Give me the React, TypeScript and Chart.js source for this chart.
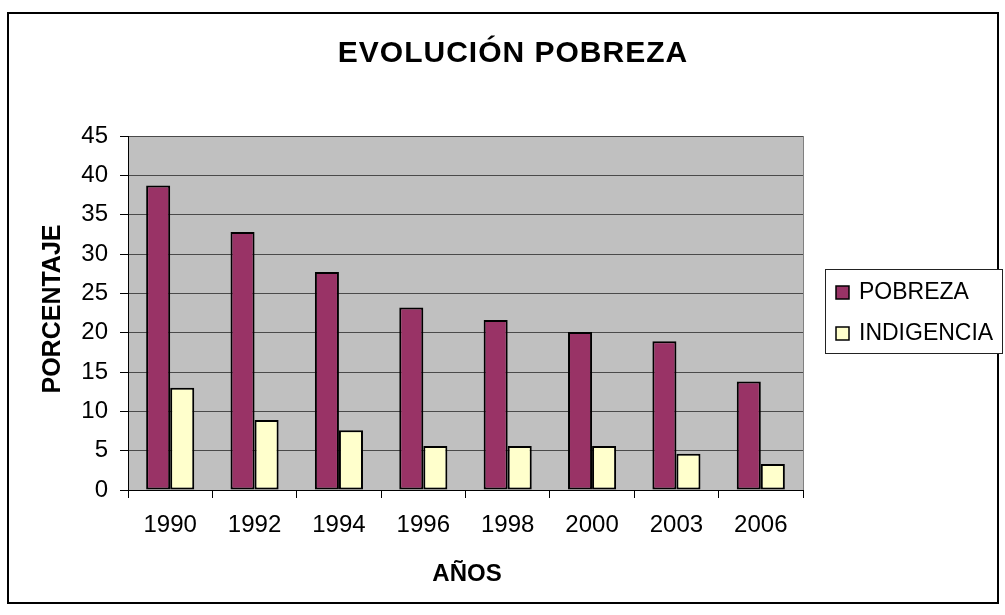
import { useEffect, useRef } from 'react';
import { Chart, registerables } from 'chart.js';

Chart.register(...registerables);

const categories = ['1990', '1992', '1994', '1996', '1998', '2000', '2003', '2006'];
const pobreza = [38.7, 32.8, 27.7, 23.2, 21.6, 20.1, 18.9, 13.8];
const indigencia = [13.0, 8.9, 7.6, 5.6, 5.6, 5.6, 4.6, 3.3];
const seriesNames = ['POBREZA', 'INDIGENCIA'];
const seriesColors = ['#993366', '#FFFFCC'];
const yMin = 0;
const yMax = 45;
const yStep = 5;
const titleText = 'EVOLUCIÓN POBREZA';
const xTitle = 'AÑOS';
const yTitle = 'PORCENTAJE';

const FONT = '"Liberation Sans", Arial, Helvetica, sans-serif';

const chromePlugin = {
  id: 'chrome',
  beforeDraw(chart: any) {
    const { ctx, chartArea: a, width, height } = chart;
    ctx.save();
    ctx.fillStyle = '#ffffff';
    ctx.fillRect(0, 0, width, height);
    ctx.fillStyle = '#C0C0C0';
    ctx.fillRect(a.left, a.top, a.right - a.left, a.bottom - a.top);
    ctx.restore();
  },
  afterDraw(chart: any) {
    const { ctx, chartArea: a } = chart;
    ctx.save();
    // right border of plot area
    ctx.strokeStyle = '#808080';
    ctx.lineWidth = 1;
    ctx.beginPath();
    ctx.moveTo(a.right + 0.5, a.top);
    ctx.lineTo(a.right + 0.5, a.bottom);
    ctx.stroke();

    // outer frame
    ctx.strokeStyle = '#000';
    ctx.lineWidth = 2;
    ctx.strokeRect(8, 13, 990, 590);

    // title
    ctx.fillStyle = '#000';
    ctx.textAlign = 'center';
    ctx.textBaseline = 'middle';
    ctx.font = `bold 30px ${FONT}`;
    (ctx as any).letterSpacing = '1px';
    ctx.fillText(titleText, 513, 54);
    (ctx as any).letterSpacing = '0px';

    // x axis title
    ctx.font = `bold 24px ${FONT}`;
    ctx.fillText(xTitle, 467, 574);

    // y axis title
    ctx.save();
    ctx.translate(52, 309);
    ctx.rotate(-Math.PI / 2);
    ctx.font = `bold 25px ${FONT}`;
    ctx.fillText(yTitle, 0, 1);
    ctx.restore();

    // legend
    const lx = 825.5, ly = 269.5, lw = 177, lh = 84;
    ctx.fillStyle = '#fff';
    ctx.fillRect(lx, ly, lw, lh);
    ctx.strokeStyle = '#222';
    ctx.lineWidth = 1;
    ctx.strokeRect(lx, ly, lw, lh);
    const rows = [292, 333];
    ctx.font = `23px ${FONT}`;
    ctx.textAlign = 'left';
    seriesNames.forEach((name, i) => {
      const cy = rows[i];
      ctx.fillStyle = seriesColors[i];
      ctx.fillRect(836, cy - 6, 13, 13);
      ctx.strokeStyle = '#000';
      ctx.lineWidth = 1.5;
      ctx.strokeRect(836, cy - 6, 13, 13);
      ctx.fillStyle = '#000';
      ctx.fillText(name, 859, cy + 1);
    });
    ctx.restore();
  },
};

export default function App() {
  const ref = useRef<HTMLCanvasElement | null>(null);

  useEffect(() => {
    if (!ref.current) return;
    const chart = new Chart(ref.current, {
      type: 'bar',
      data: {
        labels: categories,
        datasets: [
          {
            label: seriesNames[0],
            data: pobreza,
            backgroundColor: seriesColors[0],
            borderColor: '#000',
            borderWidth: 2,
            borderSkipped: false,
          },
          {
            label: seriesNames[1],
            data: indigencia,
            backgroundColor: seriesColors[1],
            borderColor: '#000',
            borderWidth: 2,
            borderSkipped: false,
          },
        ],
      },
      options: {
        responsive: false,
        animation: false,
        devicePixelRatio: 1,
        layout: { padding: { left: 0, top: 136, right: 202, bottom: 0 } },
        datasets: { bar: { barPercentage: 1, categoryPercentage: 0.57 } },
        plugins: {
          legend: { display: false },
          title: { display: false },
          tooltip: { enabled: false },
        },
        scales: {
          x: {
            grid: {
              display: true,
              drawOnChartArea: false,
              drawTicks: true,
              tickLength: 8,
              tickColor: '#000',
              offset: true,
            },
            border: { display: true, color: '#000', width: 1 },
            ticks: {
              color: '#000',
              padding: 13,
              font: { family: FONT, size: 24 },
              maxRotation: 0,
            },
            afterFit(scale: any) {
              scale.height = 125;
            },
          },
          y: {
            min: yMin,
            max: yMax,
            grid: {
              color: '#4a4a4a',
              lineWidth: 1,
              drawTicks: true,
              tickLength: 8,
              tickColor: '#000',
            },
            border: { display: true, color: '#000', width: 1 },
            ticks: {
              stepSize: yStep,
              color: '#000',
              padding: 12,
              font: { family: FONT, size: 24 },
            },
            afterFit(scale: any) {
              scale.width = 128;
            },
          },
        },
      },
      plugins: [chromePlugin],
    });
    return () => chart.destroy();
  }, []);

  return (
    <div style={{ position: 'absolute', left: 0, top: 0, width: 1005, height: 615 }}>
      <canvas ref={ref} width={1005} height={615} style={{ display: 'block' }} />
    </div>
  );
}
